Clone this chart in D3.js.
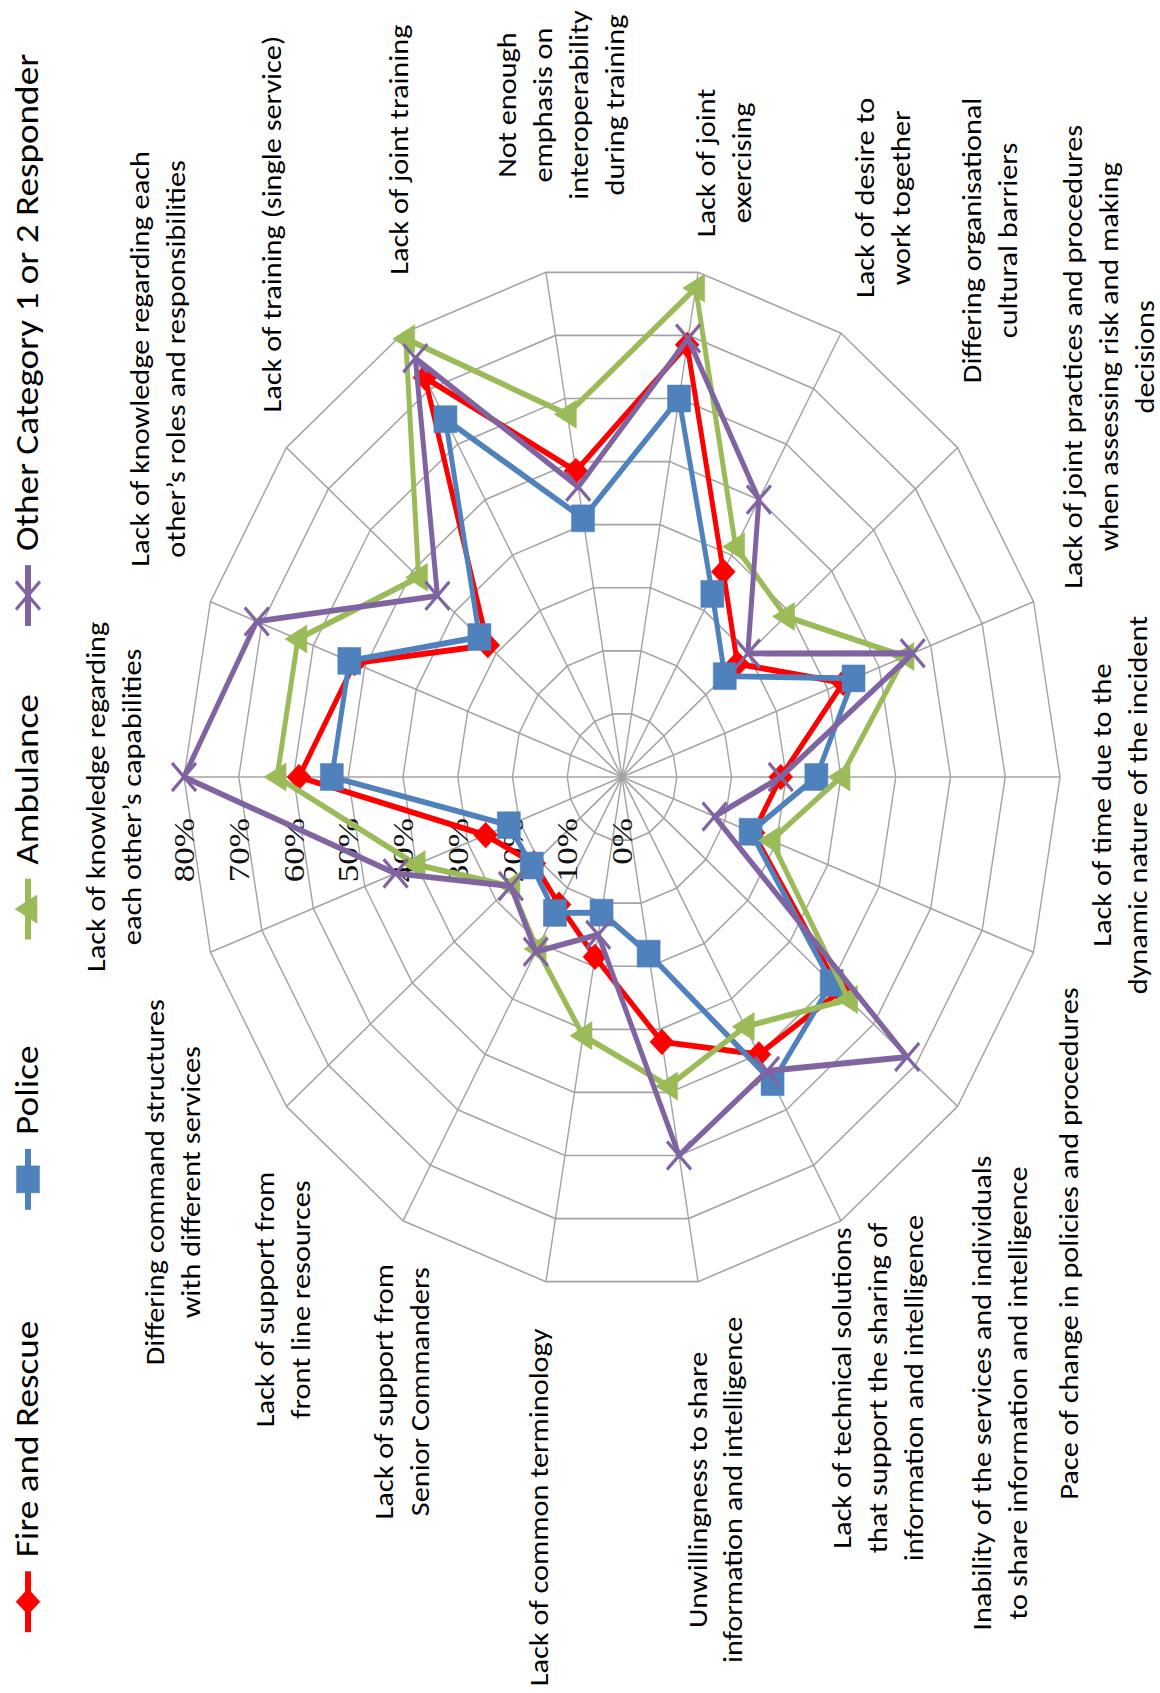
<!DOCTYPE html>
<html><head><meta charset="utf-8">
<script src="https://cdn.jsdelivr.net/npm/d3@7"></script>
<style>body{margin:0;background:#fff}svg{display:block}</style>
</head><body>
<svg id="chart" width="1160" height="1693"></svg>
<script>
// ---------------- DATA ----------------
const categories = [
  ["Lack of knowledge regarding", "each other\u2019s capabilities"],
  ["Lack of knowledge regarding each", "other\u2019s roles and responsibilities"],
  ["Lack of training (single service)"],
  ["Lack of joint training"],
  ["Not enough", "emphasis on", "interoperability", "during training"],
  ["Lack of joint", "exercising"],
  ["Lack of desire to", "work together"],
  ["Differing organisational", "cultural barriers"],
  ["Lack of joint practices and procedures", "when assessing risk and making", "decisions"],
  ["Lack of time due to the", "dynamic nature of the incident"],
  ["Pace of change in policies and procedures"],
  ["Inability of the services and individuals", "to share information and intelligence"],
  ["Lack of technical solutions", "that support the sharing of", "information and intelligence"],
  ["Unwillingness to share", "information and intelligence"],
  ["Lack of common terminology"],
  ["Lack of support from", "Senior Commanders"],
  ["Lack of support from", "front line resources"],
  ["Differing command structures", "with different services"]
];
const seriesNames = ["Fire and Rescue", "Police", "Ambulance", "Other Category 1 or 2 Responder"];
const fireRescue     = [59, 52, 32, 72, 48.5, 68.5, 37, 27.5, 43, 29, 25.5, 52, 50, 42, 28.5, 23, 21, 26.5];
const police         = [53, 53, 34, 64.5, 41, 60, 33, 24.5, 45, 35.5, 25, 50, 55, 28, 21.5, 24.5, 21.5, 22];
const ambulance      = [63, 63, 48.5, 79, 57.5, 77.5, 41.5, 39, 55, 40, 29, 54, 45, 49, 41, 31, 26.5, 40];
const otherResponder = [80, 71, 44, 75.5, 46, 69.5, 50, 30, 56.5, 29, 18, 68, 53, 60, 25, 31.5, 26.5, 44];
const tickValues = [0, 10, 20, 30, 40, 50, 60, 70, 80];
const tickLabels = ["0%", "10%", "20%", "30%", "40%", "50%", "60%", "70%", "80%"];

// ---------------- STYLE / LAYOUT ----------------
const seriesValues = [fireRescue, police, ambulance, otherResponder];
const seriesColors = ["#FF0000", "#4F81BD", "#9BBB59", "#8064A2"];
const seriesMarkers = ["diamond", "square", "triangle", "x"];
const W = 1160, H = 1693, SX = 1.17;   // chart is drawn rotated and stretched like the reference
const cu = (H - 777) / SX, cv = 622, R = 438;
const LABEL_FONT = "Carlito, Lato, 'Open Sans', sans-serif";
const TICK_FONT = "'Liberation Serif', 'Times New Roman', serif";
const lh = 36, padU = 30, padV = 20;
const labelNudge = [[-17,-14],[0,0],[0,15],[20,15],[32,31],[0,16],[0,14],[25,-10],[-19,6],
                    [-24,4],[0,0],[-12,0],[35,0],[0,8],[-10,0],[-7,27],[-26,40],[-10,15]];
const legendStarts = [52, 413, 644, 912];

const svg = d3.select("#chart");
svg.append("rect").attr("width", W).attr("height", H).attr("fill", "#fff");
const g = svg.append("g").attr("transform", `translate(0,${H}) rotate(-90) scale(${SX},1)`);

function fitSize(text, family, target) {
  const t = g.append("text").attr("font-family", family).attr("font-size", 100).text(text);
  const w = t.node().getComputedTextLength();
  t.remove();
  return 100 * target / w;
}
const labelSize = fitSize("Pace of change in policies and procedures", LABEL_FONT, 438);
const legendSize = fitSize("Other Category 1 or 2 Responder", LABEL_FONT, 425);

const n = categories.length;
const ang = d3.scaleLinear().domain([0, n]).range([0, 2 * Math.PI]);
const r = d3.scaleLinear().domain([0, 80]).range([0, R]);
const plot = g.append("g").attr("transform", `translate(${cu},${cv})`);
const pt = (i, v) => [r(v) * Math.sin(ang(i)), -r(v) * Math.cos(ang(i))];

// grid rings
const ring = d3.lineRadial().angle((d, i) => ang(i)).radius(d => r(d)).curve(d3.curveLinearClosed);
plot.append("g").selectAll("path").data(tickValues.filter(t => t > 0)).join("path")
  .attr("d", t => ring(d3.range(n).map(() => t)))
  .attr("fill", "none").attr("stroke", "#a3a3a3").attr("stroke-width", 1.4);
// spokes
plot.append("g").selectAll("line").data(d3.range(n)).join("line")
  .attr("x1", 0).attr("y1", 0)
  .attr("x2", i => pt(i, 80)[0]).attr("y2", i => pt(i, 80)[1])
  .attr("stroke", "#a3a3a3").attr("stroke-width", 1.4);

// tick labels along first axis
plot.append("g").selectAll("text").data(tickValues).join("text")
  .attr("x", -35).attr("y", t => -r(t))
  .attr("text-anchor", "end").attr("dominant-baseline", "central")
  .attr("font-family", TICK_FONT).attr("font-size", 30).attr("fill", "#111")
  .text((t, i) => tickLabels[i]);

// markers
function markerPath(type) {
  if (type === "diamond") return "M0,-12L11,0L0,12L-11,0Z";
  if (type === "square") return "M-11.5,-11.5H11.5V11.5H-11.5Z";
  if (type === "triangle") return "M0,-13L12,9L-12,9Z";
  return "M-12,-12L12,12M-12,12L12,-12";
}
function drawMarker(sel, type, color) {
  sel.append("path").attr("d", markerPath(type))
    .attr("fill", type === "x" ? "none" : color)
    .attr("stroke", color).attr("stroke-width", type === "x" ? 3 : 0.5);
}

// series
const line = d3.lineRadial().angle((d, i) => ang(i)).radius(d => r(d)).curve(d3.curveLinearClosed);
seriesValues.forEach((vals, s) => {
  const sg = plot.append("g");
  sg.append("path").attr("d", line(vals)).attr("fill", "none")
    .attr("stroke", seriesColors[s]).attr("stroke-width", 5).attr("stroke-linejoin", "round");
  vals.forEach((v, i) => {
    const [x, y] = pt(i, v);
    drawMarker(sg.append("g").attr("transform", `translate(${x},${y})`), seriesMarkers[s], seriesColors[s]);
  });
});

// category labels
categories.forEach((lines, k) => {
  const th = ang(k), s = Math.sin(th), c = Math.cos(th);
  const Eu = R * s, Ev = -R * c;
  const lg = plot.append("g");
  const ts = lines.map(l => lg.append("text").attr("font-family", LABEL_FONT)
    .attr("font-size", labelSize).attr("fill", "#000").attr("text-anchor", "middle")
    .attr("dominant-baseline", "central").text(l));
  const w = d3.max(ts, t => t.node().getComputedTextLength());
  const h = lines.length * lh;
  let bu = s > 0.1 ? Eu + padU + w / 2 : (s < -0.1 ? Eu - padU - w / 2 : Eu);
  let bv = Ev - c * (padV + h / 2);
  bu += labelNudge[k][0]; bv += labelNudge[k][1];
  ts.forEach((t, i) => t.attr("x", bu).attr("y", bv - h / 2 + lh * (i + 0.5)));
});

// legend
const legY = 38;
seriesNames.forEach((name, s) => {
  const lu = legendStarts[s];
  const lgg = g.append("g");
  lgg.append("line").attr("x1", lu).attr("x2", lu + 52).attr("y1", legY - 10).attr("y2", legY - 10)
    .attr("stroke", seriesColors[s]).attr("stroke-width", 6);
  drawMarker(lgg.append("g").attr("transform", `translate(${lu + 26},${legY - 10})`), seriesMarkers[s], seriesColors[s]);
  lgg.append("text").attr("x", lu + 64).attr("y", legY)
    .attr("font-family", LABEL_FONT).attr("font-size", legendSize).attr("fill", "#000").text(name);
});
</script>
</body></html>
